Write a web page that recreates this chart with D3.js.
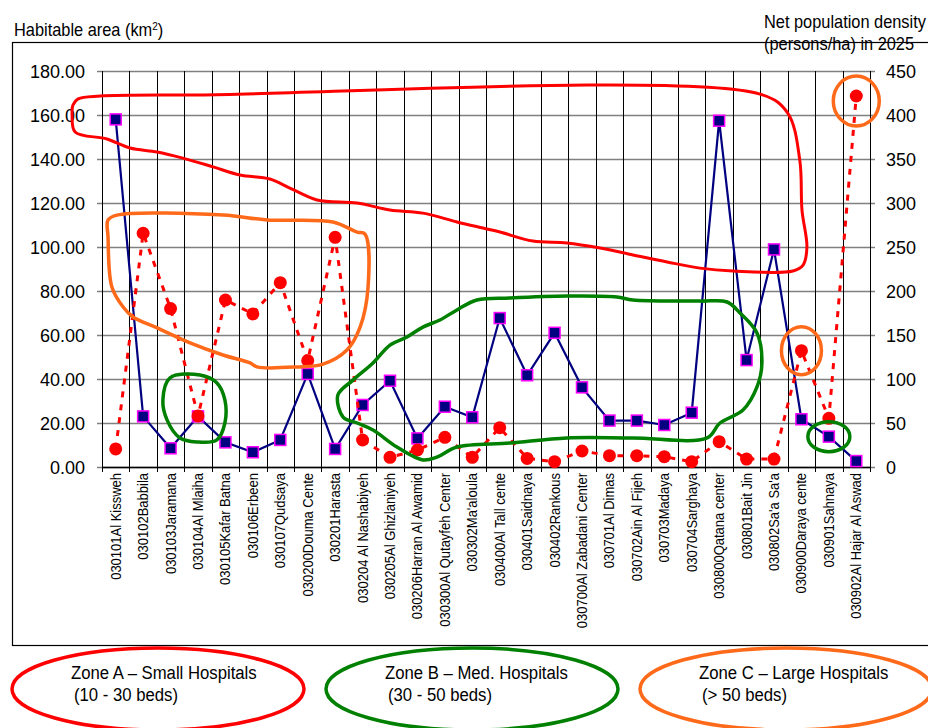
<!DOCTYPE html>
<html>
<head>
<meta charset="utf-8">
<script src="https://cdn.jsdelivr.net/npm/d3@7"></script>
<style>
  body { margin: 0; background: #fff; }
  svg text { font-family: Arial, "Liberation Sans", sans-serif; fill: #000; }
</style>
</head>
<body>
<div id="chart"></div>
<script>
// categories (sub-districts)
const districts = ["030101Al Kissweh", "030102Babbila", "030103Jaramana", "030104Al Mlaiha", "030105Kafar Batna",
  "030106Erbeen", "030107Qudsaya", "030200Douma  Cente", "030201Harasta", "030204 Al Nashabiyeh",
  "030205Al Ghizlaniyeh", "030206Harran  Al Awamid", "030300Al Qutayfeh Center", "030302Ma'aloula",
  "030400Al Tall cente", "030401Saidnaya", "030402Rankous", "030700Al Zabadani Center", "030701Al Dimas",
  "030702Ain  Al Fijeh", "030703Madaya", "030704Sarghaya", "030800Qatana center", "030801Bait Jin",
  "030802Sa'a  Sa'a", "030900Daraya cente", "030901Sahnaya", "030902Al Hajar Al Aswad"];

// habitable area, km2 (left axis)
const habitableArea = [158, 23, 8.5, 23, 11.2, 6.7, 12.3, 42.3, 8.2, 28.2, 39.2, 13, 27.4, 22.6,
  67.7, 41.7, 61, 36.2, 21.1, 21.1, 19.1, 24.7, 157.4, 48.6, 98.9, 21.7, 13.8, 2.7];

// net population density 2025, persons/ha (right axis)
const popDensity = [20.5, 265.6, 180, 58, 189.8, 174, 209.5, 120.8, 261, 30.7, 11, 19.3, 33.7, 11,
  44.7, 9.8, 6, 18.2, 12.9, 12.9, 11.7, 6, 28.8, 9, 9, 132.2, 55.3, 421.6];

const leftTicks = [0, 20, 40, 60, 80, 100, 120, 140, 160, 180];
const rightTicks = [0, 50, 100, 150, 200, 250, 300, 350, 400, 450];

const zoneNames = ["Zone A \u2013 Small Hospitals", "Zone B \u2013 Med. Hospitals", "Zone C \u2013 Large Hospitals"];
const zoneBeds = ["(10 - 30 beds)", "(30 - 50 beds)", "(> 50 beds)"];
const zoneColors = ["#ff0000", "#008000", "#ff6a1a"];

// hand-drawn outlines, [category units from left edge, left-axis value]
const zoneALoop = [[-0.87,167.3],[-0.07,168.6],[3.57,169.1],[23.99,169.5],[25.0,160.9],[25.44,139.5],[25.52,116.8],
  [25.70,100],[25.56,91.8],[25.19,89.1],[23.0,89.1],[21.8,90.4],[20.6,93.2],[19.36,96.4],[18.16,99.5],[16.95,101.8],
  [15.71,102.7],[14.51,106.8],[13.89,108.6],[12.94,111.4],[11.7,115.4],[10.5,116.8],[9.3,120],[7.84,121.4],
  [6.85,126.8],[6.12,130.9],[5.03,132.7],[4.05,136.4],[2.95,140.4],[2.01,143.2],[1.02,145],[0.18,149.1],
  [-0.98,152.3],[-1.09,160],[-1.06,164.5]];
const zoneCLoop = [[0.22,112.3],[0.55,114.5],[4.41,114.5],[6.02,112.3],[8.42,111.4],[9.3,106.8],[9.59,105.9],
  [9.7,81.8],[9.41,63.6],[8.93,53.2],[8.06,46.8],[7.11,45.5],[5.65,45.5],[5.4,47.3],[4.41,50.9],[3.21,56.4],
  [2.01,63.2],[1.13,68.2],[0.77,72.7],[0.36,81.8],[0.22,104.5]];
const zoneBSmall = [[2.48,40.5],[3.57,41.8],[4.19,38.2],[4.48,30.5],[4.48,20],[4.19,12.3],[3.46,11.4],
  [2.84,13.2],[2.37,21.4],[2.22,30.5]];
const zoneBLoop = [[8.6,32.7],[8.79,22.7],[9.3,20],[9.88,16.8],[10.75,9.1],[11.7,3.2],[12.21,4.5],[12.94,9.1],
  [14.87,10.9],[16.95,13.2],[19.36,13.2],[22.06,13.2],[22.53,20],[23.37,25.9],[23.88,36.4],[24.06,47.3],
  [23.88,60.9],[23.26,70],[22.79,75],[21.8,75.4],[19.36,75.9],[18.77,77.3],[16.95,77.7],[14.87,76.8],
  [13.67,75.9],[12.94,71.4],[12.32,66.8],[11.7,63.6],[11.12,59.1],[10.5,55.4],[9.88,47.3],[9.15,39.5]];

const w = 928;
const h = 728;
const pLeft = 102, pRight = 870, pTop = 71, pBottom = 467;

const svg = d3.select("#chart")
  .append("svg")
  .attr("width", w)
  .attr("height", h);

const xScale = d3.scaleBand()
  .domain(districts)
  .range([pLeft, pRight]);

const uScale = d3.scaleLinear().domain([0, districts.length]).range([pLeft, pRight]);

const yLeft = d3.scaleLinear().domain([0, 180]).range([pBottom, pTop]);
const yRight = d3.scaleLinear().domain([0, 450]).range([pBottom, pTop]);

// outer frame
svg.append("rect")
  .attr("x", 12.5).attr("y", 42.5)
  .attr("width", 940).attr("height", 603)
  .attr("fill", "none").attr("stroke", "#000").attr("stroke-width", 1.2);

// horizontal grid
svg.append("g").selectAll("line")
  .data(leftTicks)
  .enter()
  .append("line")
  .attr("x1", pLeft - 5).attr("x2", pRight + 5)
  .attr("y1", d => Math.round(yLeft(d)) + 0.5)
  .attr("y2", d => Math.round(yLeft(d)) + 0.5)
  .attr("stroke", "#808080").attr("stroke-width", 1.3);

// vertical grid
const edges = districts.map(d => xScale(d)).concat([pRight]);
svg.append("g").selectAll("line")
  .data(edges)
  .enter()
  .append("line")
  .attr("x1", d => Math.round(d) + 0.5).attr("x2", d => Math.round(d) + 0.5)
  .attr("y1", pTop).attr("y2", pBottom + 5)
  .attr("stroke", "#000").attr("stroke-width", 1);

svg.append("line")
  .attr("x1", pLeft).attr("x2", pRight)
  .attr("y1", pBottom + 0.5).attr("y2", pBottom + 0.5)
  .attr("stroke", "#000").attr("stroke-width", 1.5);

// axes
const yAxisL = d3.axisLeft(yLeft).tickValues(leftTicks).tickFormat(d3.format(".2f")).tickSize(0).tickPadding(17);
const yAxisR = d3.axisRight(yRight).tickValues(rightTicks).tickSize(0).tickPadding(16);

svg.append("g")
  .attr("transform", "translate(" + pLeft + ",0)")
  .call(yAxisL)
  .call(g => g.select(".domain").remove())
  .selectAll("text").style("font-size", "18px").attr("dy", "0.36em");

svg.append("g")
  .attr("transform", "translate(" + pRight + ",0)")
  .call(yAxisR)
  .call(g => g.select(".domain").remove())
  .selectAll("text").style("font-size", "18px").attr("dy", "0.36em");

// category labels
svg.append("g").selectAll("text")
  .data(districts)
  .enter()
  .append("text")
  .attr("transform", d => "translate(" + (xScale(d) + xScale.bandwidth() / 2 + 5) + "," + (pBottom + 6) + ") rotate(-90) scale(1,1.08)")
  .attr("text-anchor", "end")
  .style("font-size", "13px")
  .text(d => d);

// axis titles (slightly condensed)
svg.append("text").attr("transform", "translate(14,36) scale(0.91,1)").style("font-size", "18px")
  .html("Habitable area (km<tspan dy='-6' font-size='11px'>2</tspan><tspan dy='6'>)</tspan>");
svg.append("text").attr("transform", "translate(764,28) scale(0.91,1)").style("font-size", "18px").text("Net population density");
svg.append("text").attr("transform", "translate(764,50) scale(0.91,1)").style("font-size", "18px").text("(persons/ha) in 2025");

const cx = (d, i) => xScale(districts[i]) + xScale.bandwidth() / 2;

// habitable area series
svg.append("path")
  .datum(habitableArea)
  .attr("fill", "none").attr("stroke", "#000080").attr("stroke-width", 2.2)
  .attr("d", d3.line().x(cx).y(d => yLeft(d)));

svg.append("g").selectAll("rect")
  .data(habitableArea)
  .enter()
  .append("rect")
  .attr("x", (d, i) => cx(d, i) - 5.5)
  .attr("y", d => yLeft(d) - 5.5)
  .attr("width", 11).attr("height", 11)
  .attr("fill", "#000080").attr("stroke", "#ff00ff").attr("stroke-width", 1.5);

// population density series
svg.append("path")
  .datum(popDensity)
  .attr("fill", "none").attr("stroke", "#ff0000").attr("stroke-width", 3)
  .attr("stroke-dasharray", "6,7")
  .attr("d", d3.line().x(cx).y(d => yRight(d)));

svg.append("g").selectAll("circle")
  .data(popDensity)
  .enter()
  .append("circle")
  .attr("cx", cx)
  .attr("cy", d => yRight(d))
  .attr("r", 6.5)
  .attr("fill", "#ff0000");

// hand-drawn annotations
const outline = d3.line()
  .x(d => uScale(d[0]))
  .y(d => yLeft(d[1]))
  .curve(d3.curveCatmullRomClosed);

const notes = svg.append("g").attr("fill", "none").attr("stroke-linejoin", "round");
notes.append("path").attr("d", outline(zoneALoop)).attr("stroke", "#ff0000").attr("stroke-width", 3);
notes.append("path").attr("d", outline(zoneCLoop)).attr("stroke", "#ff6a1a").attr("stroke-width", 3.5);
notes.append("path").attr("d", outline(zoneBSmall)).attr("stroke", "#008000").attr("stroke-width", 3.5);
notes.append("path").attr("d", outline(zoneBLoop)).attr("stroke", "#008000").attr("stroke-width", 3.5);

// rings round single points
const rings = [
  {i: 25, y: yRight(popDensity[25]), rx: 20, ry: 24, color: "#ff6a1a"},
  {i: 27, y: yRight(popDensity[27]) + 5, rx: 23, ry: 25, color: "#ff6a1a"},
  {i: 26, y: yLeft(habitableArea[26]), rx: 21, ry: 15, color: "#008000"}
];
notes.selectAll("ellipse")
  .data(rings)
  .enter()
  .append("ellipse")
  .attr("cx", d => cx(null, d.i))
  .attr("cy", d => d.y)
  .attr("rx", d => d.rx).attr("ry", d => d.ry)
  .attr("stroke", d => d.color).attr("stroke-width", 3.5);

// zone legend
const zoneX = d3.scalePoint().domain(zoneNames).range([158, 786]);
const zg = svg.append("g").selectAll("g")
  .data(zoneNames)
  .enter()
  .append("g")
  .attr("transform", d => "translate(" + zoneX(d) + ",689)");

zg.append("ellipse")
  .attr("rx", 146).attr("ry", 41)
  .attr("fill", "none").attr("stroke", (d, i) => zoneColors[i]).attr("stroke-width", 3.5);
zg.append("text").attr("transform", "translate(-87,-10) scale(0.88,1)")
  .style("font-size", "19px").text(d => d);
zg.append("text").attr("transform", "translate(-84,12) scale(0.88,1)")
  .style("font-size", "19px").text((d, i) => zoneBeds[i]);
</script>
</body>
</html>
